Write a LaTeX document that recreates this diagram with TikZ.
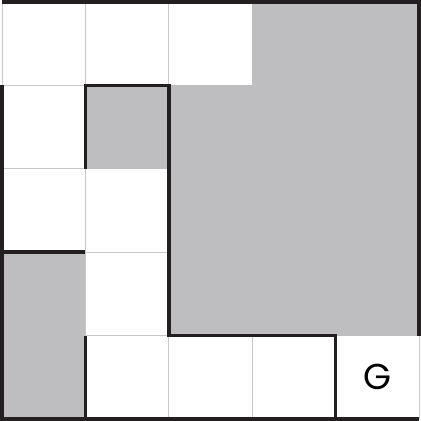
\documentclass[tikz,border=0pt]{standalone}
\usepackage{fontspec}
\usepackage{tikz}
\usepackage{xcolor}
\setsansfont{Poppins}
\definecolor{wallgray}{RGB}{190,190,193}
\definecolor{gridline}{RGB}{200,200,200}
\definecolor{walldark}{RGB}{35,31,32}
\tikzset{
  cellfill/.style={fill=wallgray, draw=none},
  thingrid/.style={draw=gridline, line width=0.7pt},
  thickwall/.style={draw=walldark, line width=2.6pt, line cap=square, line join=miter}
}

\begin{document}
\begin{tikzpicture}[x=0.75pt,y=0.75pt,yscale=-1,xscale=1]
\useasboundingbox (0,0) rectangle (421,421);

%Grid lines
\foreach \k in {0,...,5} {
  \draw [thingrid] (2+83.4*\k,2) -- (2+83.4*\k,419) ;
  \draw [thingrid] (2,2+83.4*\k) -- (419,2+83.4*\k) ;
}

%Shape: Rectangle
\path [cellfill] (252.2,2) rectangle (419,85.4) ;
%Shape: Rectangle
\path [cellfill] (168.8,85.4) rectangle (419,335.6) ;
%Shape: Rectangle
\path [cellfill] (85.4,85.4) rectangle (168.8,168.8) ;
%Shape: Rectangle
\path [cellfill] (2,252.2) rectangle (85.4,419) ;

%Straight Lines
\draw [thickwall] (419,335.6) -- (419,2) -- (2,2) ;
%Straight Lines
\draw [thickwall] (2,85.4) -- (2,419) -- (419,419) ;
%Straight Lines
\draw [thickwall] (85.4,168.8) -- (85.4,85.4) -- (168.8,85.4) -- (168.8,335.6) -- (335.6,335.6) -- (335.6,419) ;
%Straight Lines
\draw [thickwall] (2,252.2) -- (85.4,252.2) ;
%Straight Lines
\draw [thickwall] (85.4,335.6) -- (85.4,419) ;

% Text Node
\node (goal) at (377.3,377.3) {\sffamily\fontsize{27}{27}\selectfont G};

\end{tikzpicture}
\end{document}
